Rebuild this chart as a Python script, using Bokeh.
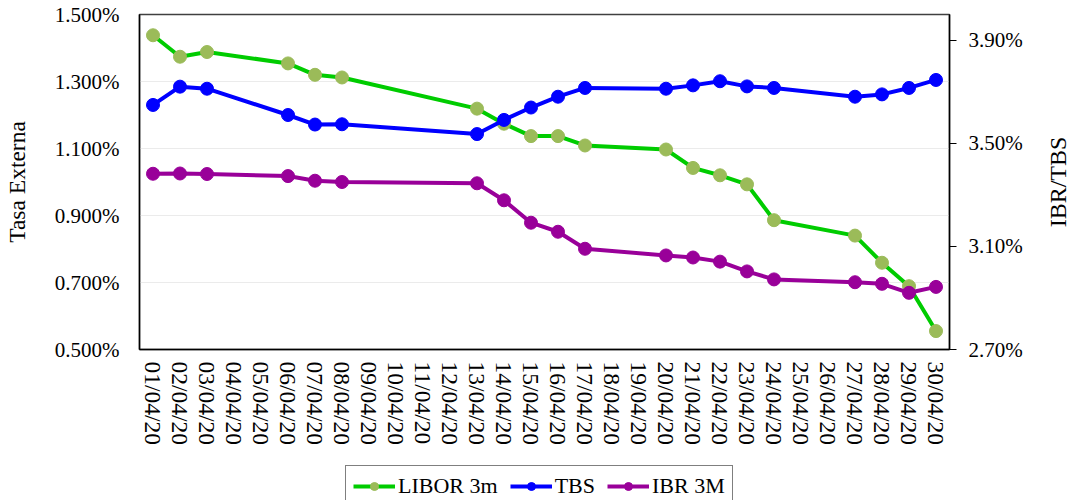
import math
from bokeh.plotting import figure
from bokeh.layouts import column
from bokeh.models import (Range1d, LinearAxis, FixedTicker, PrintfTickFormatter,
                          Legend, LegendItem, Label)
from bokeh.embed import file_html
from bokeh.resources import INLINE

dates = ["01/04/20", "02/04/20", "03/04/20", "04/04/20", "05/04/20", "06/04/20",
         "07/04/20", "08/04/20", "09/04/20", "10/04/20", "11/04/20", "12/04/20",
         "13/04/20", "14/04/20", "15/04/20", "16/04/20", "17/04/20", "18/04/20",
         "19/04/20", "20/04/20", "21/04/20", "22/04/20", "23/04/20", "24/04/20",
         "25/04/20", "26/04/20", "27/04/20", "28/04/20", "29/04/20", "30/04/20"]

obs_dates = ["01/04/20", "02/04/20", "03/04/20", "06/04/20", "07/04/20", "08/04/20",
             "13/04/20", "14/04/20", "15/04/20", "16/04/20", "17/04/20", "20/04/20",
             "21/04/20", "22/04/20", "23/04/20", "24/04/20", "27/04/20", "28/04/20",
             "29/04/20", "30/04/20"]

libor_3m = [1.438, 1.374, 1.388, 1.354, 1.320, 1.312, 1.219, 1.174, 1.137, 1.137,
            1.109, 1.097, 1.042, 1.020, 0.993, 0.886, 0.840, 0.759, 0.689, 0.555]

tbs = [3.649, 3.720, 3.712, 3.610, 3.573, 3.574, 3.536, 3.591, 3.639, 3.681,
       3.715, 3.712, 3.725, 3.741, 3.721, 3.715, 3.681, 3.690, 3.715, 3.746]

ibr_3m = [3.382, 3.383, 3.381, 3.373, 3.355, 3.350, 3.345, 3.279, 3.192, 3.157,
          3.091, 3.065, 3.057, 3.041, 3.003, 2.972, 2.961, 2.955, 2.920, 2.943]

left_ticks = [0.5, 0.7, 0.9, 1.1, 1.3, 1.5]
right_ticks = [2.70, 3.10, 3.50, 3.90]

FONT = "Liberation Serif"

LIBOR_LINE, LIBOR_MARK = "#00cc00", "#9bbb59"
TBS_COL = "#0000ff"
IBR_COL = "#990099"

p = figure(x_range=dates, y_range=Range1d(0.5, 1.5),
           frame_width=810, height=461,
           min_border_left=138, min_border_right=119, min_border_top=14,
           min_border_bottom=112,
           output_backend="svg", toolbar_location=None,
           background_fill_color="white", border_fill_color="white")

p.outline_line_color = "#404040"
p.outline_line_width = 1.5
p.xgrid.visible = False
p.ygrid.grid_line_color = "#ebebeb"
p.ygrid.grid_line_width = 1

p.extra_y_ranges = {"r": Range1d(2.70, 4.00)}

# left axis
ya = p.yaxis[0]
ya.ticker = FixedTicker(ticks=left_ticks)
ya.formatter = PrintfTickFormatter(format="%.3f%%")
ya.axis_label = "Tasa Externa"
ya.axis_label_text_font = FONT
ya.axis_label_text_font_size = "23.5px"
ya.axis_label_text_font_style = "normal"
ya.axis_label_text_color = "black"
ya.axis_label_standoff = 22
ya.major_label_text_font = FONT
ya.major_label_text_font_size = "21px"
ya.major_label_text_color = "black"
ya.major_label_standoff = 20
ya.major_tick_out = 0
ya.major_tick_in = 0
ya.major_tick_line_color = None
ya.minor_tick_line_color = None
ya.axis_line_color = "black"
ya.axis_line_width = 1.5

# right axis
ra = LinearAxis(y_range_name="r", ticker=FixedTicker(ticks=right_ticks),
                formatter=PrintfTickFormatter(format="%.2f%%"))
ra.major_label_text_font = FONT
ra.major_label_text_font_size = "21px"
ra.major_label_text_color = "black"
ra.major_label_standoff = 12
ra.major_tick_out = 7
ra.major_tick_in = 0
ra.major_tick_line_color = "black"
ra.minor_tick_line_color = None
ra.axis_line_color = "black"
ra.axis_line_width = 1.5
p.add_layout(ra, "right")

# right axis title, reading bottom-to-top
rtitle = Label(x=32, y=1.0, x_units="screen", y_units="data", text="IBR/TBS",
               angle=math.pi / 2, angle_units="rad",
               text_align="center", text_baseline="middle",
               text_font=FONT, text_font_size="24px", text_color="black")
p.add_layout(rtitle, "right")

# x axis
xa = p.xaxis[0]
xa.major_label_orientation = "vertical"
xa.major_label_text_font = FONT
xa.major_label_text_font_size = "23.5px"
xa.major_label_text_color = "black"
xa.major_label_standoff = 12
xa.major_tick_out = 0
xa.major_tick_in = 0
xa.major_tick_line_color = None
xa.minor_tick_line_color = None
xa.axis_line_color = "black"
xa.axis_line_width = 1.5

# series
p.line(obs_dates, libor_3m, line_color=LIBOR_LINE, line_width=4)
p.scatter(obs_dates, libor_3m, size=13, fill_color=LIBOR_MARK, line_color=LIBOR_MARK)
p.line(obs_dates, tbs, y_range_name="r", line_color=TBS_COL, line_width=4)
p.scatter(obs_dates, tbs, y_range_name="r", size=13, fill_color=TBS_COL, line_color=TBS_COL)
p.line(obs_dates, ibr_3m, y_range_name="r", line_color=IBR_COL, line_width=4)
p.scatter(obs_dates, ibr_3m, y_range_name="r", size=13, fill_color=IBR_COL, line_color=IBR_COL)

# legend strip below the chart (series drawn out of view, only used as legend keys)
lg = figure(x_range=dates, y_range=Range1d(100, 101), frame_width=810, height=46,
            min_border_left=138, min_border_right=0, min_border_top=4, min_border_bottom=0,
            x_axis_location=None, y_axis_location=None,
            output_backend="svg", toolbar_location=None,
            background_fill_color="white", border_fill_color="white")
lg.outline_line_color = None
lg.grid.visible = False
k1 = lg.line(obs_dates, libor_3m, line_color=LIBOR_LINE, line_width=4)
m1 = lg.scatter(obs_dates, libor_3m, size=13, fill_color=LIBOR_MARK, line_color=LIBOR_MARK)
k2 = lg.line(obs_dates, tbs, line_color=TBS_COL, line_width=4)
m2 = lg.scatter(obs_dates, tbs, size=13, fill_color=TBS_COL, line_color=TBS_COL)
k3 = lg.line(obs_dates, ibr_3m, line_color=IBR_COL, line_width=4)
m3 = lg.scatter(obs_dates, ibr_3m, size=13, fill_color=IBR_COL, line_color=IBR_COL)

legend = Legend(items=[LegendItem(label="LIBOR 3m", renderers=[k1, m1]),
                       LegendItem(label="TBS", renderers=[k2, m2]),
                       LegendItem(label="IBR 3M", renderers=[k3, m3])],
                orientation="horizontal", location=(299, 0),
                border_line_color="black", border_line_width=1,
                background_fill_color="white", background_fill_alpha=1,
                label_text_font=FONT, label_text_font_size="22px",
                label_text_color="black",
                glyph_width=42, glyph_height=20, label_standoff=3,
                spacing=12, padding=7, margin=0)
lg.add_layout(legend, "center")

open("out.html", "w").write(file_html(column(p, lg), INLINE))
